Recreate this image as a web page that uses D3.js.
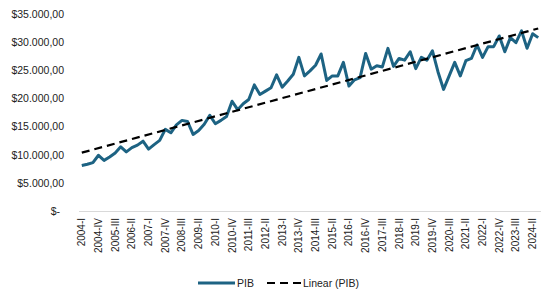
<!DOCTYPE html>
<html><head><meta charset="utf-8">
<script src="https://cdn.jsdelivr.net/npm/d3@7"></script>
<style>body{margin:0;background:#fff}svg{display:block}text{font-family:"Liberation Sans",Arial,sans-serif;fill:#222}</style>
</head><body><div id="c"></div>
<script>
const years = d3.range(2004, 2025);
const quarterNames = ["I","II","III","IV"];
const categories = [];
years.forEach(y => quarterNames.forEach(q => { if (!(y === 2024 && q === "IV")) categories.push(y + "-" + q); }));
const pib = [8090,8300,8600,9900,9000,9600,10300,11400,10500,11250,11700,12400,11000,11800,12550,14500,
13900,15300,16100,15900,13600,14300,15400,17000,15500,16100,16800,19500,18000,19050,19800,22400,
20700,21300,21900,24200,22000,23100,24300,27300,24000,24900,25900,27900,23200,24000,24000,26400,
22200,23300,23700,28000,25200,25800,25600,28900,25700,27100,26800,28300,25300,27300,26800,28450,
24700,21600,24000,26400,24000,26700,27100,29500,27300,29200,29200,31100,28300,30800,29900,32000,
28900,31500,30800];
const yTicks = [0,5000,10000,15000,20000,25000,30000,35000];
const seriesNames = ["PIB","Linear (PIB)"];

const W=555,H=303, L=79, R=541, T=14, B=211;
const svg=d3.select("#c").append("svg").attr("width",W).attr("height",H);
const x=d3.scaleBand().domain(categories).range([L,R]);
const y=d3.scaleLinear().domain([0,35000]).range([B,T]);
const fmt=v=> v===0? "$-" : "$"+d3.format(",.2f")(v).replace(/,/g,"#").replace(/\./g,",").replace(/#/g,".");

const ya=svg.append("g").attr("transform",`translate(${L},0)`)
  .call(d3.axisLeft(y).tickValues(yTicks).tickFormat(fmt).tickSize(0).tickPadding(15));
ya.select(".domain").remove();
ya.selectAll("text").style("font-size","10.5px").attr("fill","#222").attr("dx",d=>d===0?-4:0);

svg.append("line").attr("x1",L).attr("x2",R).attr("y1",B+0.5).attr("y2",B+0.5).attr("stroke","#d9d9d9");

const xa=svg.append("g").attr("transform",`translate(0,${B})`)
  .call(d3.axisBottom(x).tickValues(categories.filter((d,i)=>i%3===0)).tickSize(0).tickPadding(0));
xa.select(".domain").remove();
xa.selectAll("text").style("font-size","10px").attr("fill","#222")
  .attr("text-anchor","end").attr("transform","rotate(-90)").attr("x",-7).attr("y",0).attr("dy","0.35em");

// linear trend (least squares)
const n=pib.length, xs=d3.range(n);
const mx=d3.mean(xs), my=d3.mean(pib);
const slope=d3.sum(xs,(i)=>(i-mx)*(pib[i]-my))/d3.sum(xs,i=>(i-mx)*(i-mx));
const icpt=my-slope*mx;
const cx=i=>x(categories[i])+x.bandwidth()/2;

svg.append("path").datum(pib).attr("fill","none").attr("stroke","#1d6383").attr("stroke-width",3)
  .attr("stroke-linejoin","round")
  .attr("d",d3.line().x((d,i)=>cx(i)).y(d=>y(d)));
svg.append("line").attr("x1",cx(0)).attr("x2",cx(n-1)).attr("y1",y(icpt)).attr("y2",y(icpt+slope*(n-1)))
  .attr("stroke","#000").attr("stroke-width",2.2).attr("stroke-dasharray","8,5");

const lg=svg.append("g").attr("transform","translate(0,283)");
lg.append("line").attr("x1",198).attr("x2",235).attr("stroke","#1d6383").attr("stroke-width",3);
lg.append("text").attr("x",237).attr("dy","0.35em").style("font-size","10.5px").text(seriesNames[0]);
lg.append("line").attr("x1",267).attr("x2",301).attr("stroke","#000").attr("stroke-width",2.2).attr("stroke-dasharray","8,5");
lg.append("text").attr("x",303).attr("dy","0.35em").style("font-size","10.5px").text(seriesNames[1]);
</script></body></html>
